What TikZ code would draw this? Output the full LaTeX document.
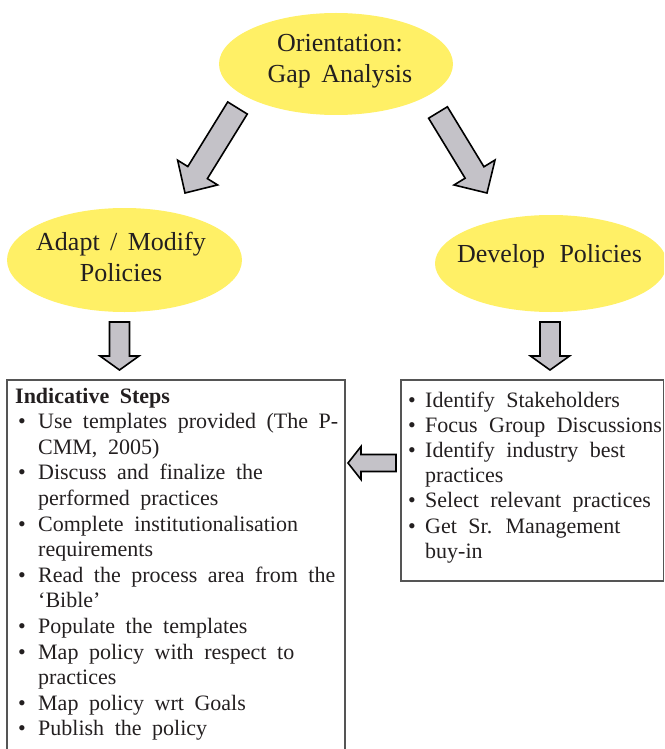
\documentclass[tikz,border=0pt]{standalone}
\usepackage{fontspec}
\setmainfont{Liberation Serif}
\usetikzlibrary{calc,shapes.geometric}

\definecolor{bubblefill}{RGB}{255,240,102}
\definecolor{arrowfill}{RGB}{196,194,200}
\definecolor{boxline}{RGB}{85,85,85}
\definecolor{ink}{RGB}{35,31,32}

% block arrow from #1 (tail) to #2 (tip):
% #3 half shaft width, #4 half head width, #5 head length
\newcommand\fatarrow[5]{%
  \coordinate (#1-#2-base) at ($(#2)!#5!(#1)$);
  \filldraw[blockarrow]
    ($(#1)!#3!90:(#2)$) -- ($(#1-#2-base)!#3!90:(#2)$)
    -- ($(#1-#2-base)!#4!90:(#2)$) -- (#2)
    -- ($(#1-#2-base)!#4!-90:(#2)$) -- ($(#1-#2-base)!#3!-90:(#2)$)
    -- ($(#1)!#3!-90:(#2)$) -- cycle;
}
\newcommand\widesp[1]{\spaceskip=#1em\relax}
\newcommand\bul{\hspace*{3pt}\makebox[20pt][l]{•}}
\newcommand\ind{\hspace*{23pt}}
\newcommand\rbul{\makebox[17pt][l]{•}}
\newcommand\rind{\hspace*{17pt}}

\begin{document}
\begin{tikzpicture}[x=1pt,y=-1pt,
  bubble/.style={ellipse, fill=bubblefill, inner sep=0pt},
  bubbletext/.style={anchor=base, inner sep=0pt, text=ink,
    font={\fontsize{26}{31}\selectfont}},
  blockarrow/.style={fill=arrowfill, draw=black, line width=1.6pt, line join=miter},
  listbox/.style={draw=boxline, line width=1.2pt},
  listtext/.style={anchor=base west, inner sep=0pt, text=ink,
    font={\fontsize{22}{25.6}\selectfont}}]

\useasboundingbox (0,0) rectangle (664,749);
\clip (0,0) rectangle (664,749);

% the three stages
\node[bubble, minimum width=234pt, minimum height=102pt] (orient) at (336,64) {};
\node[bubbletext] (orient-text) at (340,52)
  {\widesp{0.4}\begin{tabular}[t]{@{}c@{}}Orientation:\\Gap Analysis\end{tabular}};
\node[bubble, minimum width=235pt, minimum height=104pt] (adapt) at (124.5,260) {};
\node[bubbletext] (adapt-text) at (121,250)
  {\widesp{0.4}\begin{tabular}[t]{@{}c@{}}Adapt / Modify\\Policies\end{tabular}};
\node[bubble, minimum width=232pt, minimum height=97pt] (develop) at (551,263.5) {};
\node[bubbletext] (develop-text) at (549.5,262) {\widesp{0.55}Develop Policies};

% step lists
\draw[listbox] (7,760) -- (7,380) -- (345,380) -- (345,760);
\draw[listbox] (401,380) rectangle (663.5,581);

\node[listtext] (steps) at (15,403) {\parbox[t]{330pt}{\raggedright\widesp{0.48}
  \textbf{Indicative Steps}\\
  \bul Use templates provided (The P-\\
  \ind CMM, 2005)\\
  \bul Discuss and finalize the\\
  \ind performed practices\\
  \bul Complete institutionalisation\\
  \ind requirements\\
  \bul Read the process area from the\\
  \ind ‘Bible’\\
  \bul Populate the templates\\
  \bul Map policy with respect to\\
  \ind practices\\
  \bul Map policy wrt Goals\\
  \bul Publish the policy}};

\node[listtext, font={\fontsize{22}{25.2}\selectfont}] (devsteps) at (408,407)
  {\parbox[t]{260pt}{\raggedright\widesp{0.52}
  \rbul Identify Stakeholders\\
  \rbul Focus Group Discussions\\
  \rbul Identify industry best\\
  \rind practices\\
  \rbul Select relevant practices\\
  \rbul Get Sr. Management\\
  \rind buy-in}};

% arrow end points
\coordinate (oa-tail) at (237.5,108);
\coordinate (oa-tip) at (185,193);
\coordinate (od-tail) at (438,112.5);
\coordinate (od-tip) at (487,193);
\coordinate (as-tail) at (119.5,322);
\coordinate (as-tip) at (119.5,370);
\coordinate (ds-tail) at (550,322);
\coordinate (ds-tip) at (550,370);
\coordinate (dl-tail) at (396,463);
\coordinate (dl-tip) at (348,463);

\fatarrow{oa-tail}{oa-tip}{11.5pt}{23.5pt}{24pt}
\fatarrow{od-tail}{od-tip}{11pt}{24pt}{24pt}
\fatarrow{as-tail}{as-tip}{10pt}{19.5pt}{14pt}
\fatarrow{ds-tail}{ds-tip}{10pt}{19.5pt}{14pt}
\fatarrow{dl-tail}{dl-tip}{8.5pt}{16.5pt}{13pt}
\end{tikzpicture}
\end{document}
